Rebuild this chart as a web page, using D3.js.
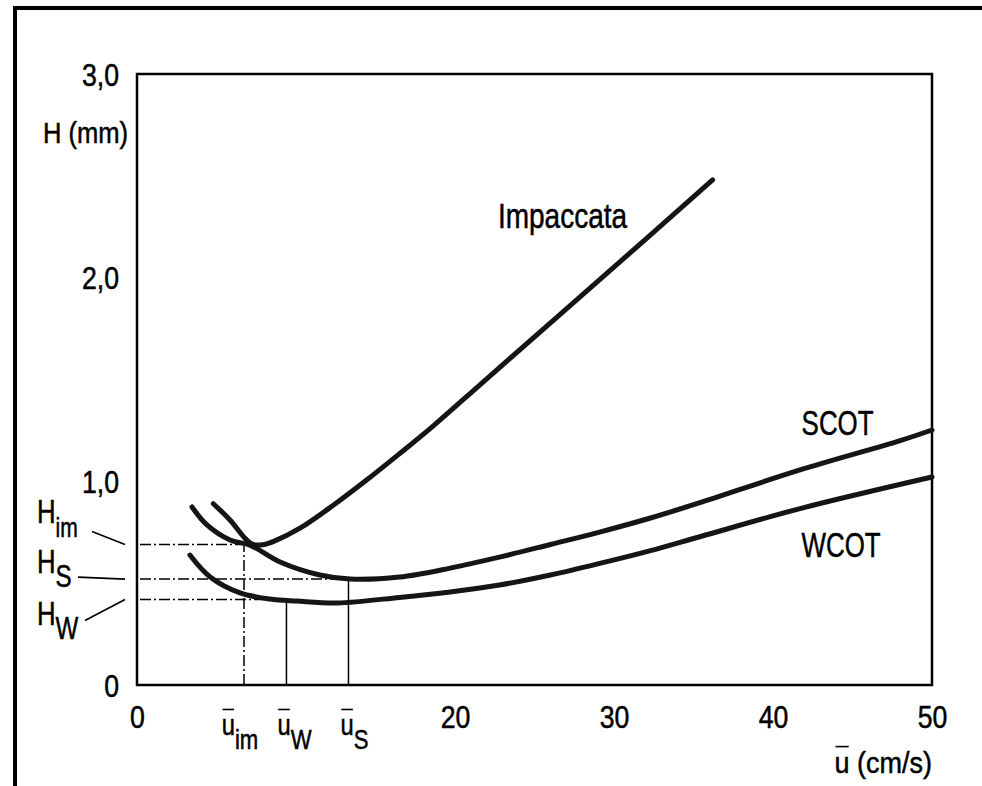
<!DOCTYPE html>
<html>
<head>
<meta charset="utf-8">
<script src="https://cdn.jsdelivr.net/npm/d3@7"></script>
<style>
  body { margin: 0; background: #fff; }
  text { font-family: "Liberation Sans", Arial, sans-serif; fill: #000; stroke: #000; stroke-width: 0.5px; }
</style>
</head>
<body>
<svg id="chart"></svg>
<script>
// curves, [u (cm/s), H (mm)]
const impaccata = [[4.8,0.89],[5.85,0.81],[6.8,0.72],[7.3,0.69],[8.0,0.69],[8.6,0.705],[10.25,0.77],[12.3,0.88],[14.5,1.01],[16.5,1.135],[18.6,1.27],[21.8,1.49],[29.1,1.99],[36.2,2.48]];
const scot = [[3.46,0.874],[4.4,0.786],[5.85,0.712],[7.1,0.687],[9.0,0.604],[11.5,0.54],[13.4,0.52],[16.5,0.53],[19.7,0.574],[22.8,0.628],[26.0,0.69],[29.1,0.751],[32.3,0.82],[35.4,0.895],[41.7,1.056],[48,1.20],[50,1.252]];
const wcot = [[3.33,0.638],[4.6,0.53],[6.48,0.452],[8.36,0.422],[10.06,0.412],[12.6,0.403],[16.5,0.43],[19.7,0.457],[22.8,0.491],[26,0.54],[29.1,0.597],[32.3,0.66],[35.4,0.728],[41.7,0.866],[50,1.021]];

// optimum points: u and H of the minimum of each curve
const optNames = ["im", "S", "W"];
const optU = [6.73, 13.3, 9.4];
const optH = [0.69, 0.52, 0.42];

const xTicks = [0, 20, 30, 40, 50];
const yTicks = [0, 1, 2, 3];

const width = 982, height = 786;
const sx = 0.86; // narrow look of the original lettering
const svg = d3.select("#chart").attr("width", width).attr("height", height);

var x = d3.scaleLinear().domain([0, 50]).range([137, 932]);
var y = d3.scaleLinear().domain([0, 3]).range([685, 74]);

// outer frame (left + top only)
svg.append("path")
  .attr("d", `M15,${height} L15,8 L${width},8`)
  .attr("fill", "none").attr("stroke", "#000").attr("stroke-width", 4);

// plot box
svg.append("rect")
  .attr("x", x(0)).attr("y", y(3))
  .attr("width", x(50) - x(0)).attr("height", y(0) - y(3))
  .attr("fill", "none").attr("stroke", "#000").attr("stroke-width", 2.5);

// axes, labels only
const yAxis = d3.axisLeft(y).tickValues(yTicks).tickSize(0)
  .tickFormat(d => d === 0 ? "0" : d3.format(".1f")(d).replace(".", ","));
const gy = svg.append("g").attr("transform", `translate(${x(0)},0)`).call(yAxis);
gy.select(".domain").remove();
gy.selectAll("text").attr("font-size", 31).attr("font-family", null)
  .attr("x", -18 / sx).attr("dy", "0.36em").attr("transform", `scale(${sx},1)`);

const xAxis = d3.axisBottom(x).tickValues(xTicks).tickSize(0);
const gx = svg.append("g").attr("transform", `translate(0,${y(0)})`).call(xAxis);
gx.select(".domain").remove();
gx.selectAll("text").attr("font-size", 31).attr("font-family", null)
  .attr("y", 43).attr("dy", null).attr("transform", `scale(${sx},1)`);

// reference lines
const dashDot = "11,3,2,3";
const refs = svg.append("g").attr("stroke", "#000").attr("stroke-width", 1.5).attr("fill", "none");
optU.forEach((u, i) => {
  refs.append("line")
    .attr("x1", x(0) + 3).attr("x2", x(u))
    .attr("y1", y(optH[i])).attr("y2", y(optH[i]))
    .attr("stroke-dasharray", dashDot);
  refs.append("line")
    .attr("x1", x(u)).attr("x2", x(u))
    .attr("y1", y(0)).attr("y2", y(optH[i]))
    .attr("stroke-dasharray", optNames[i] === "im" ? dashDot : null);
});

// curves
var line = d3.line().x(d => x(d[0])).y(d => y(d[1])).curve(d3.curveCatmullRom.alpha(0.5));
[scot, wcot, impaccata].forEach(s => {
  svg.append("path").datum(s)
    .attr("d", line)
    .attr("fill", "none").attr("stroke", "#151515")
    .attr("stroke-width", 5).attr("stroke-linecap", "round");
});

// narrow text: a group squeezed horizontally
function label(px, py, size, scaleX, anchor) {
  const g = svg.append("g").attr("transform", `translate(${px},${py}) scale(${scaleX},1)`);
  const t = g.append("text").attr("font-size", size).attr("text-anchor", anchor || "start");
  return {g, t};
}
function subLabel(px, py, main, sub, size, subSize, dy, scaleX, anchor) {
  const l = label(px, py, size, scaleX, anchor);
  l.t.append("tspan").text(main);
  l.t.append("tspan").attr("font-size", subSize).attr("dy", dy).text(sub);
  return l;
}
function overbar(l, size) {
  const r = l.t.node().getExtentOfChar(0);
  l.g.append("line")
    .attr("x1", r.x + 1).attr("x2", r.x + r.width - 1)
    .attr("y1", -size * 0.88).attr("y2", -size * 0.88)
    .attr("stroke", "#000").attr("stroke-width", 1.6);
}

// curve names
label(x(22.7), y(2.244), 35, 0.8).t.text("Impaccata");
label(x(41.8), y(1.227), 35, 0.74).t.text("SCOT");
label(x(41.8), y(0.628), 35, 0.74).t.text("WCOT");

// u markers under the axis
const uDx = [-4, 6, 8];
optU.forEach((u, i) => {
  const l = subLabel(x(u) + uDx[i], 735, "u", optNames[i], 29, 27, 14, 0.82, "middle");
  overbar(l, 29);
});

// H markers left of the axis
const hDy = [-21, -6, 26];
const leadFrom = [[92, -13], [78, -2], [85, 21]];
optH.forEach((h, i) => {
  subLabel(37, y(h) + hDy[i], "H", optNames[i], 33, optNames[i] === "im" ? 27 : 31, 14, 0.78);
  svg.append("line")
    .attr("x1", leadFrom[i][0]).attr("y1", y(h) + leadFrom[i][1])
    .attr("x2", x(0) - 12).attr("y2", y(h))
    .attr("stroke", "#000").attr("stroke-width", 1.6);
});

// axis titles
label(128, 143, 29, 0.88, "end").t.text("H (mm)");
const ut = label(932, 773, 30, 0.9, "end");
ut.t.text("u (cm/s)");
overbar(ut, 30);
</script>
</body>
</html>
